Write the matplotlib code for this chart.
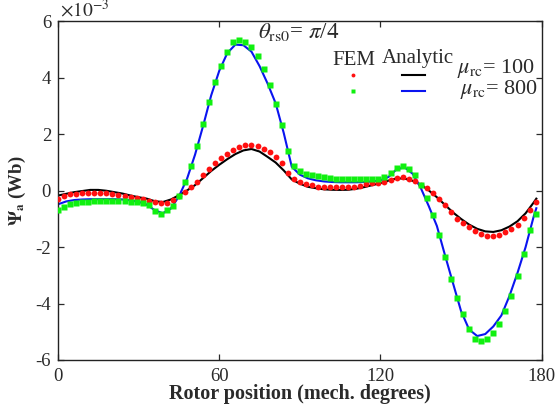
import numpy as np
import matplotlib
matplotlib.use("Agg")
import matplotlib.pyplot as plt
from matplotlib.lines import Line2D

plt.rcParams['font.family'] = ['Liberation Serif', 'DejaVu Serif']
plt.rcParams['mathtext.fontset'] = 'stix'
plt.rcParams['axes.unicode_minus'] = False

# ---------------- data (units of 1e-3 Wb) ----------------
analytic_deg = np.r_[np.arange(0, 178, 3), 178]
analytic_mu100 = [
    -0.17, -0.11, -0.05, -0.01, 0.03, 0.03, 0.00, -0.05, -0.10, -0.17,
    -0.23, -0.28, -0.37, -0.40, -0.31, -0.16, 0.01, 0.20, 0.45, 0.70,
    0.92, 1.12, 1.30, 1.43, 1.48, 1.39, 1.20, 1.00, 0.72, 0.40,
    0.25, 0.14, 0.09, 0.05, 0.035, 0.03, 0.035, 0.07, 0.13, 0.20,
    0.27, 0.36, 0.44, 0.43, 0.35, 0.22, 0.01, -0.23, -0.50, -0.77,
    -1.00, -1.20, -1.35, -1.44, -1.46, -1.40, -1.27, -1.08, -0.80, -0.42,
    -0.28]
analytic_mu800 = [
    -0.48, -0.38, -0.33, -0.31, -0.30, -0.30, -0.30, -0.30, -0.31, -0.34,
    -0.39, -0.49, -0.69, -0.80, -0.63, -0.20, 0.42, 1.28, 2.30, 3.38,
    4.25, 4.88, 5.18, 5.16, 4.93, 4.42, 3.80, 3.10, 2.05, 0.85,
    0.57, 0.44, 0.37, 0.33, 0.31, 0.30, 0.30, 0.30, 0.31, 0.33,
    0.37, 0.49, 0.76, 0.83, 0.60, 0.10, -0.55, -1.25, -2.28, -3.28,
    -4.27, -4.92, -5.15, -5.08, -4.81, -4.42, -3.73, -2.91, -2.00, -0.92,
    -0.62]

fem_deg = np.arange(80) * 2.25
fem_mu100 = [
    -0.30, -0.19, -0.12, -0.10, -0.08, -0.07, -0.07, -0.07, -0.08, -0.10,
    -0.14, -0.18, -0.22, -0.26, -0.30, -0.36, -0.41, -0.44, -0.44, -0.32,
    -0.19, -0.05, 0.13, 0.32, 0.55, 0.78, 0.98, 1.15, 1.30, 1.46,
    1.56, 1.61, 1.61, 1.57, 1.48, 1.36, 1.21, 1.00, 0.62, 0.40,
    0.30, 0.24, 0.20, 0.15, 0.13, 0.12, 0.12, 0.12, 0.12, 0.14,
    0.18, 0.23, 0.26, 0.29, 0.31, 0.37, 0.44, 0.47, 0.42, 0.34,
    0.22, 0.10, -0.08, -0.30, -0.52, -0.77, -0.99, -1.15, -1.30, -1.44,
    -1.54, -1.59, -1.59, -1.56, -1.48, -1.36, -1.21, -0.97, -0.67, -0.41]
fem_mu800 = [
    -0.67, -0.56, -0.48, -0.44, -0.41, -0.39, -0.38, -0.38, -0.38, -0.38,
    -0.38, -0.38, -0.39, -0.40, -0.42, -0.50, -0.72, -0.83, -0.70, -0.53,
    -0.19, 0.30, 0.89, 1.60, 2.36, 3.15, 3.85, 4.42, 4.92, 5.26,
    5.34, 5.29, 5.08, 4.78, 4.32, 3.75, 3.08, 2.34, 1.42, 0.87,
    0.70, 0.61, 0.56, 0.51, 0.48, 0.45, 0.42, 0.41, 0.41, 0.41,
    0.41, 0.41, 0.41, 0.43, 0.47, 0.63, 0.79, 0.87, 0.78, 0.56,
    0.21, -0.27, -0.87, -1.56, -2.35, -3.14, -3.79, -4.36, -4.90, -5.24,
    -5.31, -5.27, -5.05, -4.72, -4.28, -3.74, -3.02, -2.24, -1.40, -0.82]

x_ticks = [0, 60, 120, 180]
y_ticks = [-6, -4, -2, 0, 2, 4, 6]
series_labels = [r'$\mu_{\rm rc}$= 100', r'$\mu_{\rm rc}$= 800']

# ---------------- figure ----------------
fig = plt.figure(figsize=(5.57, 4.08), dpi=100)
AX_L, AX_R, AX_T, AX_B = 58, 541.7, 21.5, 360
ax = fig.add_axes([AX_L/557, 1-AX_B/408, (AX_R-AX_L)/557, (AX_B-AX_T)/408])

def axx(px):
    return (px - AX_L) / (AX_R - AX_L)

def axy(py):
    return (AX_B - py) / (AX_B - AX_T)

TXT = '#2a2a2a'
RED = '#ff1010'
GRN = '#10f010'
BLU = '#0a14f0'
ax.plot(analytic_deg, analytic_mu100, color='black', lw=1.5, zorder=2)
ax.plot(analytic_deg, analytic_mu800, color=BLU, lw=1.5, zorder=2)
ax.plot(fem_deg, fem_mu100, ls='none', marker='o', ms=4.2, color=RED,
        mec='none', zorder=3)
ax.plot(fem_deg, fem_mu800, ls='none', marker='s', ms=3.9, color=GRN,
        mec='none', zorder=3)

ax.set_xlim(0, 180)
ax.set_ylim(-6, 6)
ax.set_xticks(x_ticks)
ax.set_yticks(y_ticks)
ax.set_yticklabels([str(t) for t in y_ticks])
ax.tick_params(direction='in', length=4, width=0.9, top=True, right=True,
               labelsize=13.5, colors=TXT)
ax.tick_params(axis='x', pad=6)
ax.tick_params(axis='y', pad=5)
for s in ax.spines.values():
    s.set_linewidth(1.0)
    s.set_color('#222222')

ax.set_xlabel('Rotor position (mech. degrees)', fontsize=14.5,
              fontweight='bold', color=TXT, labelpad=-1)
ax.set_ylabel(r'$\mathbf{\Psi}_{\mathbf{a}}$ (Wb)', fontsize=13.5,
              fontweight='bold', color=TXT, labelpad=5)

fig.text(60/557, 1-17/408, r'$\times10^{-3}$', fontsize=14, color=TXT,
         va='baseline', ha='left')
ax.text(axx(258), axy(38), r'$\theta_{\rm rs0}$= $\pi$/4',
        transform=ax.transAxes, fontsize=16.5, color=TXT, va='baseline',
        ha='left')
ax.text(axx(332), axy(65), 'FEM', transform=ax.transAxes,
        fontsize=15, color=TXT, va='baseline', ha='left')
ax.text(axx(382), axy(63), 'Analytic', transform=ax.transAxes,
        fontsize=15, color=TXT, va='baseline', ha='left')
ax.text(axx(457), axy(73), series_labels[0], transform=ax.transAxes,
        fontsize=16, color=TXT, va='baseline', ha='left')
ax.text(axx(460), axy(94), series_labels[1], transform=ax.transAxes,
        fontsize=16, color=TXT, va='baseline', ha='left')

h_red = Line2D([], [], ls='none', marker='o', ms=2.8, color=RED, mec='none')
h_grn = Line2D([], [], ls='none', marker='s', ms=2.6, color=GRN, mec='none')
h_blk = Line2D([], [], color='black', lw=1.5)
h_blu = Line2D([], [], color=BLU, lw=1.5)
leg = ax.legend([h_red, h_grn, h_blk, h_blu], ['', '', '', ''],
                ncol=2, frameon=False, fontsize=12,
                handlelength=1.38, handletextpad=0.5, columnspacing=1.78,
                labelspacing=0.0, borderpad=0, borderaxespad=0,
                loc='upper left',
                bbox_to_anchor=(axx(341), axy(68.5)))

fig.savefig('out.png', dpi=100)
